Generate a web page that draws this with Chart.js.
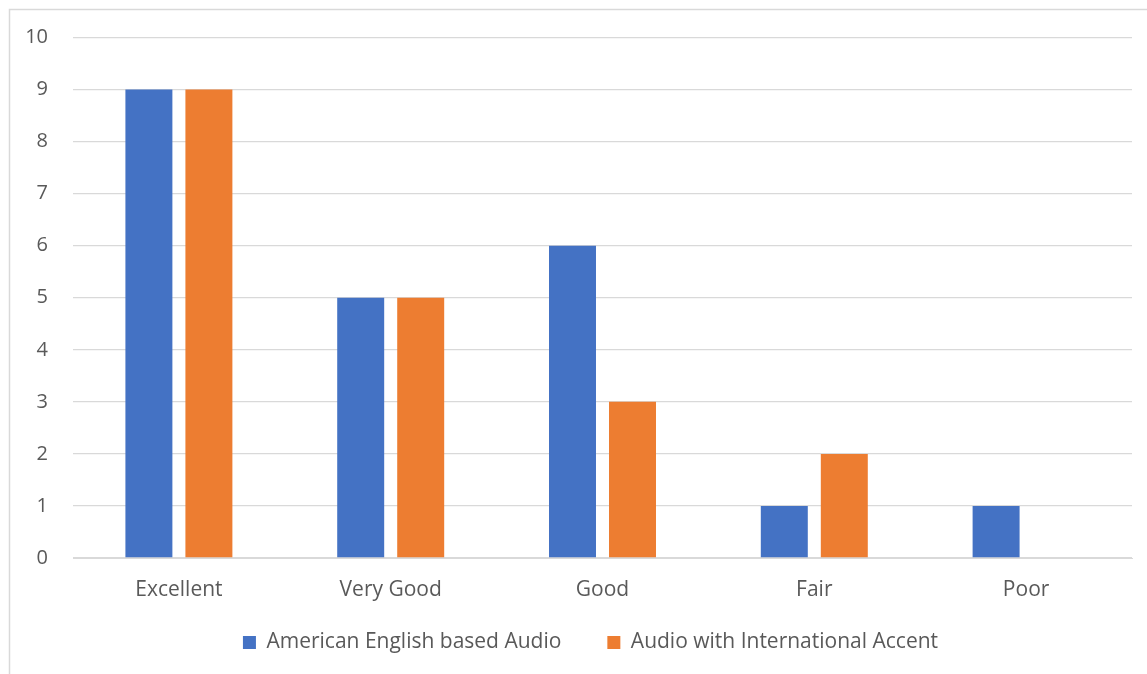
<!DOCTYPE html>
<html>
<head>
<meta charset="utf-8">
<script src="https://cdn.jsdelivr.net/npm/chart.js@4.4.1/dist/chart.umd.min.js"></script>
<style>
  html, body { margin: 0; padding: 0; background: #ffffff; overflow: hidden; }
  #wrap { position: absolute; left: 0; top: 0; width: 1170px; height: 674px; }
</style>
</head>
<body>
<div id="wrap"><canvas id="c" width="1170" height="674"></canvas></div>
<script>
const categories = ["Excellent", "Very Good", "Good", "Fair", "Poor"];
const seriesNames = ["American English based Audio", "Audio with International Accent"];
const americanValues = [9, 5, 6, 1, 1];
const internationalValues = [9, 5, 3, 2, 0];
const yTicks = [0, 1, 2, 3, 4, 5, 6, 7, 8, 9, 10];

const FONT = "'Open Sans', Lato, sans-serif";
const TEXT = "#595959";
const GRID = "#d9d9d9";

const frame = {
  id: 'frame',
  beforeDraw(chart) {
    const ctx = chart.ctx;
    ctx.save();
    ctx.fillStyle = '#ffffff';
    ctx.fillRect(0, 0, chart.width, chart.height);
    ctx.strokeStyle = GRID;
    ctx.lineWidth = 1.5;
    ctx.strokeRect(9.5, 9.5, 1159, 700);
    ctx.restore();
  }
};

const legendFix = {
  id: 'legendFix',
  beforeInit(chart) {
    const lg = chart.legend;
    if (!lg) return;
    const orig = lg.fit;
    lg.fit = function () {
      orig.call(this);
      this.height = 71;
    };
  },
  afterLayout(chart) {
    const lg = chart.legend;
    if (!lg) return;
    lg.top = 586;
    lg.bottom = chart.height;
    lg.height = lg.bottom - lg.top;
    lg.left += 24.5;
    lg.right += 24.5;
  }
};

new Chart(document.getElementById('c'), {
  type: 'bar',
  data: {
    labels: categories,
    datasets: [
      { label: seriesNames[0], data: americanValues, backgroundColor: '#4472C4', borderColor: '#ffffff', borderWidth: 0 },
      { label: seriesNames[1], data: internationalValues, backgroundColor: '#ED7D31', borderColor: '#ffffff', borderWidth: 0 }
    ]
  },
  options: {
    responsive: false,
    animation: false,
    devicePixelRatio: 1,
    categoryPercentage: 0.5666,
    barPercentage: 0.783,
    layout: { padding: { left: 0, right: 38, top: 37.5, bottom: 0 } },
    plugins: {
      tooltip: { enabled: false },
      legend: {
        position: 'bottom',
        labels: {
          color: TEXT,
          font: { family: FONT, size: 21 },
          boxWidth: 13,
          boxHeight: 13,
          padding: 46
        }
      }
    },
    scales: {
      x: {
        grid: { display: false, drawTicks: false },
        border: { display: true, color: GRID, width: 1 },
        ticks: { color: TEXT, font: { family: FONT, size: 21 }, padding: 19, autoSkip: false, maxRotation: 0 },
        afterFit(s) { s.height = 45; }
      },
      y: {
        min: 0, max: 10,
        afterBuildTicks(s) { s.ticks = yTicks.map(v => ({ value: v })); },
        grid: { color: GRID, lineWidth: 1.3, drawTicks: false },
        border: { display: false },
        ticks: { color: TEXT, font: { family: FONT, size: 20 }, padding: 25 },
        afterFit(s) { s.width = 73; }
      }
    }
  },
  plugins: [frame, legendFix]
});
</script>
</body>
</html>
